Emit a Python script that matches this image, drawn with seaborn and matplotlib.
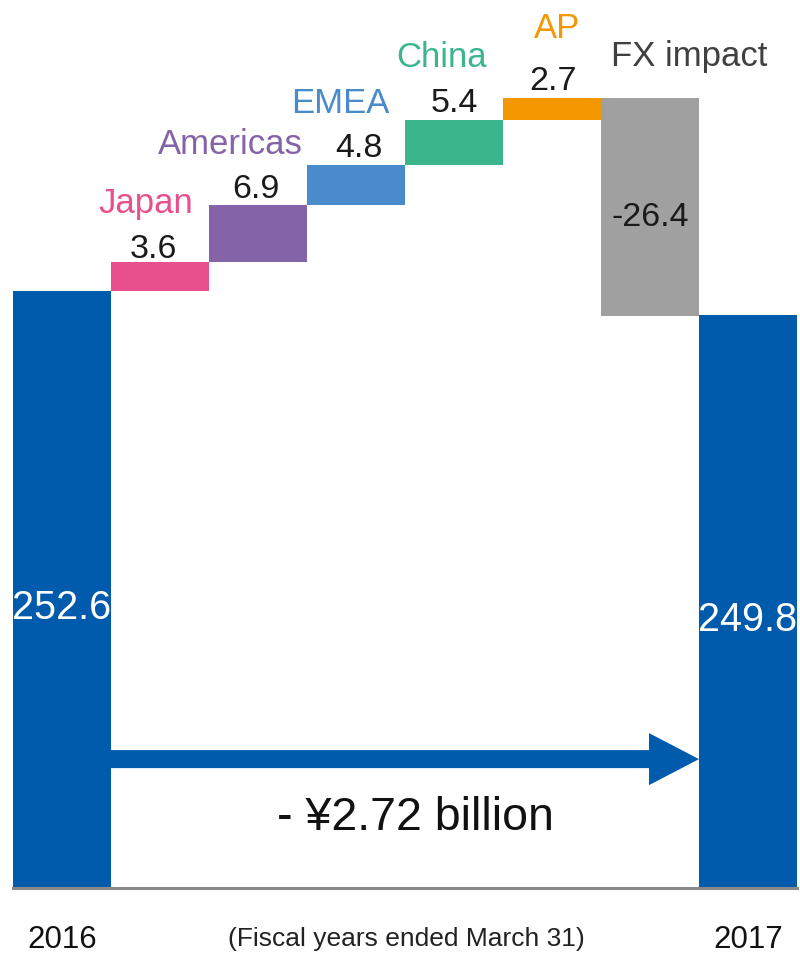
import matplotlib
matplotlib.use("Agg")
import matplotlib.pyplot as plt
import matplotlib.patches as mpatches
import matplotlib.transforms as mtransforms
import seaborn as sns

# Net sales bridge, FY2016 -> FY2017 (¥ billion)
categories = ["2016", "Japan", "Americas", "EMEA", "China", "AP", "FX impact", "2017"]
start_total = 252.6
end_total = 249.8
changes = [3.6, 6.9, 4.8, 5.4, 2.7, -26.4]
change_labels = ["3.6", "6.9", "4.8", "5.4", "2.7", "-26.4"]
total_labels = ["252.6", "249.8"]
difference_text = "- ¥2.72 billion"
year_labels = ["2016", "2017"]
note_text = "(Fiscal years ended March 31)"

bar_colors = ["#005BAC", "#E8508D", "#8563A8", "#4A8BCB", "#3BB58B", "#F39800", "#A0A0A0", "#005BAC"]
name_colors = ["#E8508D", "#8563A8", "#4A8BCB", "#3BB58B", "#F39800", "#404040"]

# hand-placed label nudges, in pixels (dx, dy)
name_nudge = {"Japan": (-14, -3), "Americas": (-28, -1), "EMEA": (-16, 0),
              "China": (-12, 1), "AP": (5, 8)}
value_nudge = {"Japan": (-7, -3), "Americas": (-2, 0), "EMEA": (3, 1),
               "China": (0, 1), "AP": (1, 1)}

sns.set_theme(style="white")
plt.rcParams["font.family"] = ["Liberation Sans", "DejaVu Sans"]

# floating segments: bottom and height of every bar
bottoms, heights = [0.0], [start_total]
running = start_total
for c in changes:
    if c >= 0:
        bottoms.append(running)
        heights.append(c)
    else:
        bottoms.append(running + c)
        heights.append(-c)
    running += c
bottoms.append(0.0)
heights.append(end_total)

W, H = 800, 954
fig = plt.figure(figsize=(W / 100, H / 100), dpi=100)
ax = fig.add_axes([13 / W, (H - 889) / H, 784 / W, 889 / H])

sns.barplot(x=categories, y=heights, hue=categories, palette=bar_colors,
            width=1.0, saturation=1.0, legend=False, ax=ax, linewidth=0)
for patch, b in zip(ax.patches, bottoms):
    patch.set_y(b)

ymin, ymax = 180.4, 288.0
ax.set_ylim(ymin, ymax)
ax.set_xlim(-0.5, len(categories) - 0.5)

px = 72 / 100  # points per pixel

# segment labels
for i, (c, txt) in enumerate(zip(changes, change_labels), start=1):
    name = categories[i]
    top = bottoms[i] + heights[i]
    if c >= 0:
        vdx, vdy = value_nudge[name]
        ndx, ndy = name_nudge[name]
        ax.annotate(txt, (i, top), xytext=(vdx * px, (8 + vdy) * px),
                    textcoords="offset points", ha="center", va="baseline",
                    fontsize=24.5, color="#1a1a1a")
        ax.annotate(name, (i, top), xytext=(ndx * px, (53 + ndy) * px),
                    textcoords="offset points", ha="center", va="baseline",
                    fontsize=25, color=name_colors[i - 1])
    else:
        ax.annotate(txt, (i, bottoms[i] + heights[i] / 2), xytext=(0, -17.5 * px),
                    textcoords="offset points", ha="center", va="baseline",
                    fontsize=24.5, color="#1a1a1a")
        ax.annotate(name, (i - 0.5, top), xytext=(10 * px, 33 * px),
                    textcoords="offset points", ha="left", va="baseline",
                    fontsize=25, color=name_colors[i - 1])

# totals
for i, txt in zip([0, len(categories) - 1], total_labels):
    mid = (ymin + heights[i]) / 2
    ax.annotate(txt, (i, mid), xytext=(0, -28.5 * px), textcoords="offset points",
                ha="center", va="baseline", fontsize=28.5, color="white")

# change arrow between the totals
arrow_y = 196.0
arrow = mpatches.FancyArrow(0.5, arrow_y, len(categories) - 2, 0, width=2.18,
                            head_width=6.3, head_length=0.51,
                            length_includes_head=True, color="#005BAC", lw=0)
ax.add_patch(arrow)
fig.text(415 / W, 1 - 830 / H, difference_text, ha="center", va="baseline",
         fontsize=33.5, color="#111111")

# axis styling
ax.set_xticks([])
ax.set_yticks([])
ax.set_xlabel("")
ax.set_ylabel("")
for side in ["top", "left", "right"]:
    ax.spines[side].set_visible(False)
ax.spines["bottom"].set_color("#8a8a8a")
ax.spines["bottom"].set_linewidth(2.2)

trans = mtransforms.blended_transform_factory(ax.transData, fig.transFigure)
for i, txt in zip([0, len(categories) - 1], year_labels):
    ax.text(i, 1 - 948 / H, txt, transform=trans, ha="center", va="baseline",
            fontsize=22.5, color="#111111")
fig.text(406 / W, 1 - 946 / H, note_text, ha="center", va="baseline",
         fontsize=19, color="#222222")

fig.savefig("out.png", dpi=100)
